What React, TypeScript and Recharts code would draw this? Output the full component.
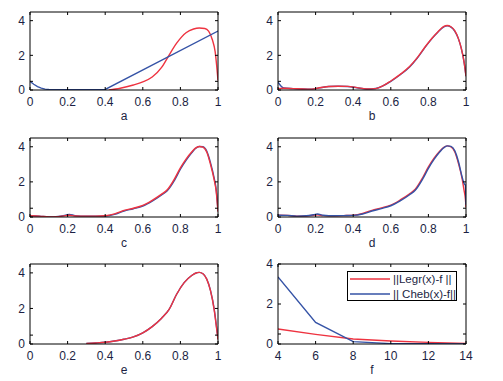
import React from 'react';
import { LineChart, Line, XAxis, YAxis, Legend } from 'recharts';

const RED = '#ee3340';
const BLUE = '#3553a6';
const TXT = '#1c1f44';

// x tick labels
const unitTicks = [0, 0.2, 0.4, 0.6, 0.8, 1];
const fTicks = [4, 6, 8, 10, 12, 14];
const yTicks = [0, 0.5, 2, 4];

// Panel a
const aBlueX = [0, 0.02, 0.04, 0.06, 0.08, 0.1, 0.2, 0.3, 0.4, 1.0];
const aBlueY = [0.5, 0.33, 0.2, 0.11, 0.05, 0.03, 0.02, 0.02, 0.03, 3.4];
const aRedX = [0.42, 0.48, 0.55, 0.6, 0.65, 0.7, 0.73, 0.78, 0.83, 0.87, 0.9, 0.93, 0.95, 0.97, 0.985, 0.993, 1.0];
const aRedY = [0.0, 0.1, 0.29, 0.47, 0.75, 1.3, 1.83, 2.7, 3.3, 3.52, 3.58, 3.55, 3.4, 2.9, 2.2, 1.4, 0.55];

// Panel b
const bX = [0, 0.03, 0.08, 0.13, 0.18, 0.22, 0.27, 0.32, 0.37, 0.42, 0.47, 0.52, 0.56, 0.6, 0.65, 0.7, 0.74, 0.78, 0.82, 0.85, 0.88, 0.9, 0.92, 0.94, 0.96, 0.975, 0.99, 1.0];
const bRed = [0.08, 0.1, 0.08, 0.06, 0.05, 0.13, 0.2, 0.22, 0.21, 0.14, 0.06, 0.08, 0.25, 0.52, 0.9, 1.35, 1.85, 2.45, 3.0, 3.35, 3.65, 3.72, 3.65, 3.42, 2.95, 2.4, 1.6, 0.8];
const bBlue = [0.45, 0.12, 0.08, 0.06, 0.05, 0.12, 0.2, 0.22, 0.2, 0.13, 0.06, 0.09, 0.25, 0.5, 0.88, 1.33, 1.83, 2.43, 2.98, 3.33, 3.63, 3.7, 3.63, 3.4, 2.95, 2.4, 1.6, 0.8];

// Panel c
const cX = [0, 0.05, 0.1, 0.15, 0.19, 0.21, 0.24, 0.3, 0.35, 0.4, 0.45, 0.5, 0.55, 0.6, 0.65, 0.7, 0.73, 0.77, 0.8, 0.83, 0.86, 0.88, 0.9, 0.92, 0.94, 0.96, 0.98, 0.99, 1.0];
const cRed = [0.07, 0.05, 0.0, 0.02, 0.08, 0.1, 0.06, 0.05, 0.05, 0.07, 0.18, 0.38, 0.5, 0.66, 0.95, 1.3, 1.55, 2.2, 2.8, 3.3, 3.7, 3.92, 4.02, 3.98, 3.7, 3.0, 2.1, 1.5, 0.3];
const cBlue = [0.07, 0.05, 0.0, 0.03, 0.11, 0.15, 0.08, 0.05, 0.05, 0.06, 0.15, 0.34, 0.47, 0.62, 0.9, 1.25, 1.5, 2.12, 2.72, 3.22, 3.65, 3.9, 4.02, 4.0, 3.75, 3.1, 2.2, 1.6, 0.35];

// Panel d
const dX = [0, 0.05, 0.1, 0.15, 0.19, 0.21, 0.24, 0.3, 0.35, 0.4, 0.45, 0.5, 0.55, 0.6, 0.65, 0.7, 0.73, 0.77, 0.8, 0.83, 0.86, 0.88, 0.9, 0.92, 0.94, 0.96, 0.98, 0.99, 0.997, 1.0];
const dRed = [0.1, 0.09, 0.05, 0.06, 0.1, 0.12, 0.08, 0.07, 0.08, 0.1, 0.2, 0.38, 0.52, 0.68, 0.97, 1.32, 1.58, 2.25, 2.85, 3.35, 3.75, 3.95, 4.05, 4.0, 3.72, 3.05, 2.15, 1.5, 1.0, 0.55];
const dBlue = [0.1, 0.09, 0.05, 0.07, 0.13, 0.17, 0.1, 0.07, 0.08, 0.09, 0.17, 0.34, 0.48, 0.64, 0.92, 1.27, 1.52, 2.17, 2.77, 3.28, 3.7, 3.93, 4.05, 4.02, 3.78, 3.15, 2.25, 1.9, 1.8, 0.7];

// Panel e
const eX = [0.3, 0.35, 0.4, 0.45, 0.5, 0.55, 0.6, 0.65, 0.7, 0.74, 0.78, 0.82, 0.86, 0.88, 0.9, 0.92, 0.94, 0.96, 0.98, 0.99, 1.0];
const eRed = [0.03, 0.06, 0.1, 0.17, 0.27, 0.4, 0.63, 0.98, 1.45, 1.95, 2.8, 3.45, 3.85, 3.98, 4.03, 3.95, 3.65, 3.0, 1.9, 1.1, 0.25];
const eBlue = [0.03, 0.06, 0.1, 0.17, 0.27, 0.4, 0.63, 0.98, 1.45, 1.95, 2.8, 3.45, 3.85, 3.98, 4.03, 3.95, 3.66, 3.02, 1.95, 1.15, 0.3];

// Panel f
const fX = [4, 6, 8, 10, 12, 14];
const fLegr = [0.75, 0.48, 0.25, 0.15, 0.08, 0.03];
const fCheb = [3.35, 1.08, 0.12, 0.02, 0.01, 0.0];

const LEGR_NAME = '||Legr(x)-f ||';
const CHEB_NAME = '|| Cheb(x)-f||';

type Pt = { x: number; y: number };
const zip = (xs: number[], ys: number[]): Pt[] => xs.map((x, i) => ({ x, y: ys[i] }));

type Series = { data: Pt[]; color: string; name: string; curve: 'linear' | 'monotone' };

const fmtX = (v: number) => String(v);
const fmtY = (v: number) => (v === 0.5 ? '' : String(v));
const blank = () => '';

const renderLegend = () => {
  const items = [
    { name: LEGR_NAME, color: RED },
    { name: CHEB_NAME, color: BLUE },
  ];
  return (
    <div
      style={{
        border: '1px solid #000',
        background: '#fff',
        width: 108,
        height: 28,
        fontFamily: '"Liberation Sans", Arial, sans-serif',
      }}
    >
      {items.map((it) => (
        <div key={it.name} style={{ display: 'flex', alignItems: 'center', height: 14.5 }}>
          <svg width={45} height={14} style={{ display: 'block' }}>
            <line x1={2} x2={42} y1={7} y2={7} stroke={it.color} strokeWidth={1.5} />
          </svg>
          <span style={{ fontSize: 11.5, color: TXT, whiteSpace: 'pre', lineHeight: '14px' }}>{it.name}</span>
        </div>
      ))}
    </div>
  );
};

type PanelProps = {
  left: number;
  top: number;
  plotH: number;
  xDomain: [number, number];
  xTicks: number[];
  yDomain: [number, number];
  series: Series[];
  label: string;
  legend?: boolean;
};

function Panel({ left, top, plotH, xDomain, xTicks, yDomain, series, label, legend }: PanelProps) {
  const plotW = 188;
  const ml = 30;
  const mt = 10;
  const mr = 10;
  const xh = 36;
  const width = ml + plotW + mr;
  const height = mt + plotH + xh;
  return (
    <div style={{ position: 'absolute', left: left - ml, top: top - mt }}>
      <LineChart width={width} height={height} margin={{ top: mt - 1, right: mr - 1, left: 0, bottom: 0 }}>
        <XAxis
          xAxisId="b"
          type="number"
          dataKey="x"
          domain={xDomain}
          ticks={xTicks}
          interval={0}
          allowDataOverflow
          height={xh}
          stroke="#000"
          tickSize={-3}
          tickMargin={10}
          tick={{ fill: TXT, fontSize: 12 }}
          tickFormatter={fmtX}
          label={{ value: label, position: 'insideBottom', offset: 6, fill: TXT, fontSize: 12 }}
        />
        <XAxis
          xAxisId="t"
          orientation="top"
          type="number"
          dataKey="x"
          domain={xDomain}
          ticks={xTicks}
          interval={0}
          allowDataOverflow
          height={1}
          stroke="#000"
          tickSize={-3}
          tickMargin={0}
          tick={{ fill: TXT, fontSize: 1 }}
          tickFormatter={blank}
        />
        <YAxis
          yAxisId="l"
          type="number"
          domain={yDomain}
          ticks={yTicks}
          interval={0}
          allowDataOverflow
          width={ml}
          stroke="#000"
          tickSize={-3}
          tickMargin={8}
          tick={{ fill: TXT, fontSize: 12 }}
          tickFormatter={fmtY}
        />
        <YAxis
          yAxisId="r"
          orientation="right"
          type="number"
          domain={yDomain}
          ticks={yTicks}
          interval={0}
          allowDataOverflow
          width={1}
          stroke="#000"
          tickSize={-3}
          tickMargin={0}
          tick={{ fill: TXT, fontSize: 1 }}
          tickFormatter={blank}
        />
        {series.map((s) => (
          <Line
            key={s.name}
            xAxisId="b"
            yAxisId="l"
            data={s.data}
            dataKey="y"
            name={s.name}
            type={s.curve}
            stroke={s.color}
            strokeWidth={1.4}
            dot={false}
            activeDot={false}
            isAnimationActive={false}
          />
        ))}
        {legend && (
          <Legend
            layout="vertical"
            align="center"
            verticalAlign="middle"
            content={renderLegend}
            wrapperStyle={{ left: 99, top: 17, width: 110, height: 30 }}
          />
        )}
      </LineChart>
    </div>
  );
}

export default function App() {
  const unit: [number, number] = [0, 1];
  const yd: [number, number] = [0, 4.5];
  return (
    <div
      style={{
        position: 'absolute',
        left: 0,
        top: 0,
        width: 503,
        height: 381,
        background: '#fff',
        overflow: 'hidden',
        fontFamily: '"Liberation Sans", Arial, sans-serif',
      }}
    >
      <Panel
        left={30}
        top={12}
        plotH={78}
        xDomain={unit}
        xTicks={unitTicks}
        yDomain={yd}
        label="a"
        series={[
          { data: zip(aRedX, aRedY), color: RED, name: 'red', curve: 'monotone' },
          { data: zip(aBlueX, aBlueY), color: BLUE, name: 'blue', curve: 'linear' },
        ]}
      />
      <Panel
        left={278}
        top={12}
        plotH={78}
        xDomain={unit}
        xTicks={unitTicks}
        yDomain={yd}
        label="b"
        series={[
          { data: zip(bX, bBlue), color: BLUE, name: 'blue', curve: 'monotone' },
          { data: zip(bX, bRed), color: RED, name: 'red', curve: 'monotone' },
        ]}
      />
      <Panel
        left={30}
        top={138}
        plotH={79}
        xDomain={unit}
        xTicks={unitTicks}
        yDomain={yd}
        label="c"
        series={[
          { data: zip(cX, cBlue), color: BLUE, name: 'blue', curve: 'monotone' },
          { data: zip(cX, cRed), color: RED, name: 'red', curve: 'monotone' },
        ]}
      />
      <Panel
        left={278}
        top={138}
        plotH={79}
        xDomain={unit}
        xTicks={unitTicks}
        yDomain={yd}
        label="d"
        series={[
          { data: zip(dX, dRed), color: RED, name: 'red', curve: 'monotone' },
          { data: zip(dX, dBlue), color: BLUE, name: 'blue', curve: 'monotone' },
        ]}
      />
      <Panel
        left={30}
        top={264}
        plotH={80}
        xDomain={unit}
        xTicks={unitTicks}
        yDomain={yd}
        label="e"
        series={[
          { data: zip(eX, eBlue), color: BLUE, name: 'blue', curve: 'monotone' },
          { data: zip(eX, eRed), color: RED, name: 'red', curve: 'monotone' },
        ]}
      />
      <Panel
        left={278}
        top={264}
        plotH={80}
        xDomain={[4, 14]}
        xTicks={fTicks}
        yDomain={[0, 4]}
        label="f"
        legend
        series={[
          { data: zip(fX, fLegr), color: RED, name: LEGR_NAME, curve: 'linear' },
          { data: zip(fX, fCheb), color: BLUE, name: CHEB_NAME, curve: 'linear' },
        ]}
      />
    </div>
  );
}
